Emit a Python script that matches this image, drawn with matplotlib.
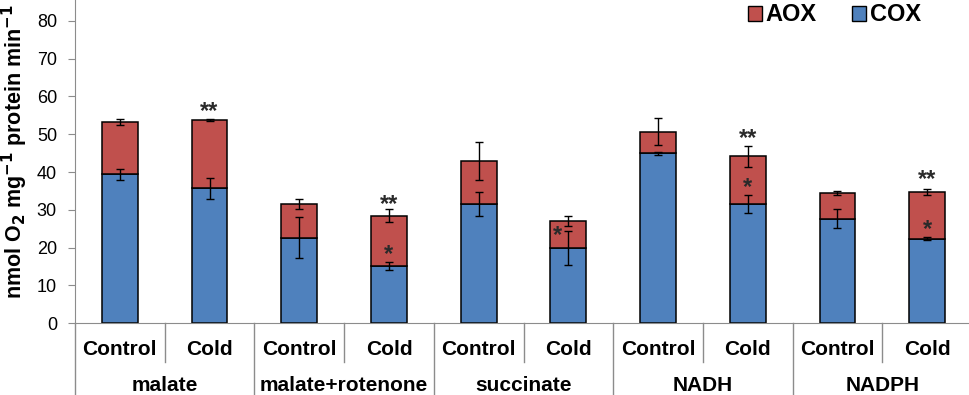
import matplotlib.pyplot as plt
from matplotlib.patches import Patch

plt.rcParams['font.family'] = ['Liberation Sans', 'DejaVu Sans']

# данные
groups = ['malate', 'malate+rotenone', 'succinate', 'NADH', 'NADPH']
conditions = ['Control', 'Cold'] * 5
cox = [39.4, 35.7, 22.6, 15.1, 31.6, 19.8, 45.0, 31.5, 27.7, 22.3]
cox_err = [1.5, 2.7, 5.4, 1.0, 3.1, 4.5, 0.4, 2.4, 2.4, 0.4]
total = [53.2, 53.7, 31.6, 28.5, 42.9, 27.1, 50.7, 44.2, 34.5, 34.8]
total_err = [0.7, 0.2, 1.3, 1.6, 5.0, 1.4, 3.5, 2.8, 0.5, 0.8]
aox = [t - c for t, c in zip(total, cox)]

# значимость: (индекс столбца, текст, высота)
sig_marks = [
    (1, '**', 56.0),
    (3, '**', 31.4), (3, '*', 18.3),
    (5, '*', 23.1),
    (7, '**', 48.8), (7, '*', 35.9),
    (9, '**', 38.0), (9, '*', 24.7),
]

red = '#C0504D'
blue = '#4F81BD'
gray = '#8C8C8C'

fig = plt.figure(figsize=(9.7, 3.95), dpi=100)
ax = fig.add_axes([75 / 970, 71.7 / 395, 897 / 970, 323.3 / 395])

x = list(range(len(cox)))
ax.bar(x, cox, width=0.4, color=blue, edgecolor='black', linewidth=1.1)
ax.bar(x, aox, width=0.4, bottom=cox, color=red, edgecolor='black', linewidth=1.1)
ax.errorbar(x, cox, yerr=cox_err, fmt='none', ecolor='black', elinewidth=1, capsize=3, capthick=1)
ax.errorbar(x, total, yerr=total_err, fmt='none', ecolor='black', elinewidth=1, capsize=3, capthick=1)

for i, s, h in sig_marks:
    dx = -0.12 if i == 5 else 0
    ax.text(i + dx, h, s, ha='center', va='center', fontsize=17,
            fontweight='bold', color='#2a2a2a')

ax.set_xlim(-0.5, 9.5)
ax.set_ylim(0, 85.5)
ax.set_yticks(range(0, 90, 10))
ax.tick_params(axis='y', labelsize=13, direction='out', length=5, color=gray, pad=8)
ax.set_xticks([])
for s in ['top', 'right']:
    ax.spines[s].set_visible(False)
ax.spines['left'].set_color(gray)
ax.spines['bottom'].set_color(gray)

# подписи категорий
tr = ax.get_xaxis_transform()
for i, lab in enumerate(conditions):
    ax.text(i, -0.08, lab, transform=tr, ha='center', va='center',
            fontsize=15, fontweight='bold', clip_on=False)
for g, name in enumerate(groups):
    ax.text(2 * g + 0.5, -0.192, name, transform=tr, ha='center', va='center',
            fontsize=15, fontweight='bold', clip_on=False)
for g in range(5):
    ax.plot([2 * g + 0.5] * 2, [0, -0.12], transform=tr, color=gray, lw=1, clip_on=False)
for g in range(6):
    ax.plot([2 * g - 0.5] * 2, [0, -0.3], transform=tr, color=gray, lw=1, clip_on=False)

fig.text(15 / 970, 96 / 395, 'nmol O$_\\mathbf{2}$ mg$^\\mathbf{-1}$ protein min$^\\mathbf{-1}$',
         rotation=90, ha='center', va='bottom', fontsize=15.5, fontweight='bold')

handles = [Patch(facecolor=red, edgecolor='black'), Patch(facecolor=blue, edgecolor='black')]
fig.legend(handles, ['AOX', 'COX'], loc='upper right', bbox_to_anchor=(942 / 970, 1.045),
           ncol=2, frameon=False, handlelength=0.6, handleheight=0.6, handletextpad=0.15,
           columnspacing=1.5, prop={'size': 17, 'weight': 'bold'})

fig.savefig('out.png', dpi=100)
